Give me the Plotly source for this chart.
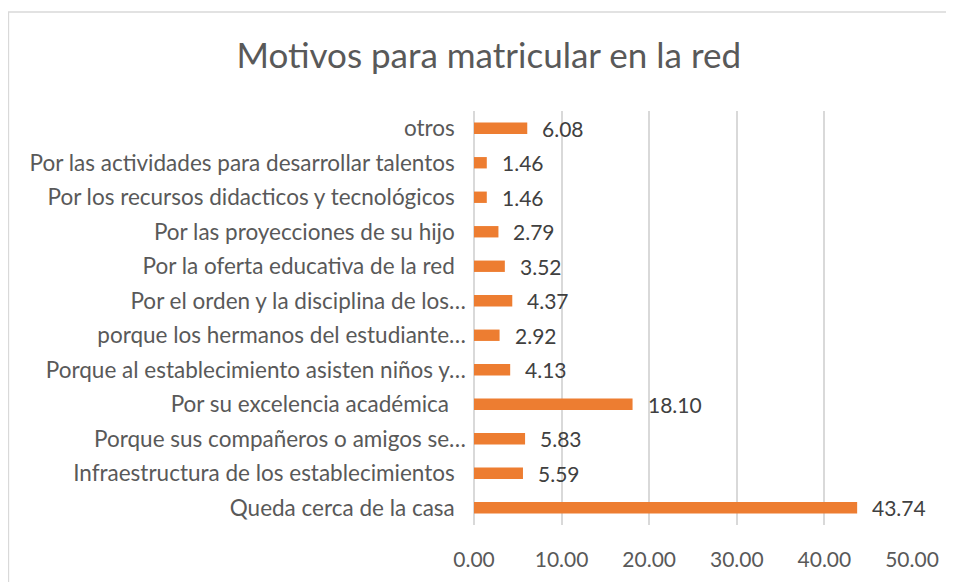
import plotly.graph_objects as go

# categories listed bottom to top
motivos = [
    "Queda cerca de la casa",
    "Infraestructura de los establecimientos",
    "Porque sus compañeros o amigos se…",
    "Por su excelencia académica ",
    "Porque al establecimiento asisten niños y…",
    "porque los hermanos del estudiante…",
    "Por el orden y la disciplina de los…",
    "Por la oferta educativa de la red",
    "Por las proyecciones de su hijo",
    "Por los recursos didacticos y tecnológicos",
    "Por las actividades para desarrollar talentos",
    "otros",
]
porcentajes = [43.74, 5.59, 5.83, 18.10, 4.13, 2.92, 4.37, 3.52, 2.79, 1.46, 1.46, 6.08]
ticks_x = [0, 10, 20, 30, 40, 50]

font_family = "Lato, 'Open Sans', sans-serif"
gris = "#595959"

# Excel leaves a gap after full labels, truncated ones run up to the axis
etiquetas = []
for m in motivos:
    if m.endswith("…"):
        etiquetas.append(m)
    else:
        extra = "\u00a0" if m.endswith(" ") else ""
        etiquetas.append(m.rstrip() + extra + "\u2002")

fig = go.Figure()
fig.add_trace(go.Bar(
    x=porcentajes,
    y=motivos,
    orientation="h",
    width=0.33,
    marker=dict(color="#ED7D31", line=dict(width=0)),
    hoverinfo="x",
))

# value labels placed to the right of each bar
for m, v in zip(motivos, porcentajes):
    fig.add_annotation(
        x=v, y=m, text=f"{v:.2f}", showarrow=False,
        xanchor="left", xshift=13, yshift=0,
        font=dict(family=font_family, size=21, color="#404040"),
    )

# chart border (only top and left edges fall inside the crop)
fig.add_shape(
    type="path", xref="paper", yref="paper",
    path="M -1.063,-0.2 L -1.063,1.239 L 1.3,1.239",
    line=dict(color="#D9D9D9", width=1.5),
)

fig.update_layout(
    width=954,
    height=582,
    margin=dict(l=466, r=50, t=103, b=65),
    paper_bgcolor="white",
    plot_bgcolor="white",
    showlegend=False,
    title=dict(
        text="Motivos para matricular en la red",
        x=0.5039, xref="container", xanchor="center",
        y=0.9175, yanchor="middle",
        font=dict(family=font_family, size=35, color=gris),
    ),
    font=dict(family=font_family, size=21, color=gris),
    xaxis=dict(
        range=[0, 50],
        tickvals=ticks_x,
        tickformat=".2f",
        showgrid=True,
        gridcolor="#D9D9D9",
        gridwidth=1.5,
        zeroline=True,
        zerolinecolor="#D9D9D9",
        zerolinewidth=1.5,
        showline=False,
        ticks="",
        ticklabelstandoff=20,
        tickfont=dict(size=21),
        fixedrange=True,
    ),
    yaxis=dict(
        categoryorder="array",
        categoryarray=motivos,
        tickvals=motivos,
        ticktext=etiquetas,
        showgrid=False,
        showline=False,
        ticks="",
        ticklabelstandoff=7,
        tickfont=dict(size=22.5),
        automargin=False,
        fixedrange=True,
    ),
)

fig.write_html("out.html")
